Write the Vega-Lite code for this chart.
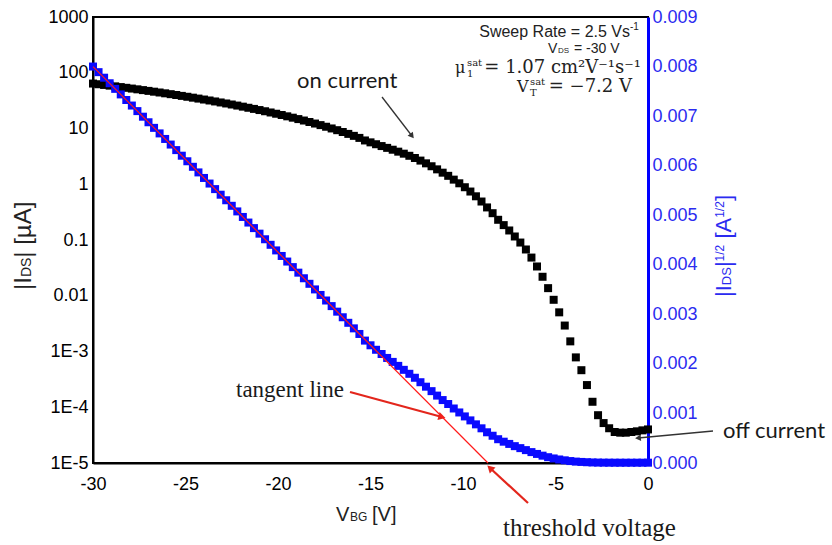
{
  "$schema": "https://vega.github.io/schema/vega-lite/v6.json",
  "width": 555,
  "height": 446,
  "autosize": {"type": "none"},
  "padding": {"left": 93, "top": 17, "right": 184, "bottom": 82},
  "background": "white",
  "config": {
    "view": {"stroke": "black", "strokeWidth": 2},
    "text": {"font": "Liberation Sans"}
  },
  "datasets": {
    "sweep": [
      {"v": -30.0, "i": 64.0, "s": 0.008},
      {"v": -29.7, "i": 62.21, "s": 0.007887},
      {"v": -29.4, "i": 60.45, "s": 0.007775},
      {"v": -29.1, "i": 58.72, "s": 0.007663},
      {"v": -28.8, "i": 57.0, "s": 0.00755},
      {"v": -28.5, "i": 55.32, "s": 0.007438},
      {"v": -28.2, "i": 53.66, "s": 0.007325},
      {"v": -27.9, "i": 52.03, "s": 0.007213},
      {"v": -27.6, "i": 50.42, "s": 0.007101},
      {"v": -27.3, "i": 48.83, "s": 0.006988},
      {"v": -27.0, "i": 47.28, "s": 0.006876},
      {"v": -26.7, "i": 45.74, "s": 0.006763},
      {"v": -26.4, "i": 44.24, "s": 0.006651},
      {"v": -26.1, "i": 42.76, "s": 0.006539},
      {"v": -25.8, "i": 41.29, "s": 0.006426},
      {"v": -25.5, "i": 39.87, "s": 0.006314},
      {"v": -25.2, "i": 38.45, "s": 0.006201},
      {"v": -24.9, "i": 37.08, "s": 0.006089},
      {"v": -24.6, "i": 35.72, "s": 0.005977},
      {"v": -24.3, "i": 34.39, "s": 0.005864},
      {"v": -24.0, "i": 33.08, "s": 0.005752},
      {"v": -23.7, "i": 31.8, "s": 0.005639},
      {"v": -23.4, "i": 30.55, "s": 0.005527},
      {"v": -23.1, "i": 29.31, "s": 0.005414},
      {"v": -22.8, "i": 28.11, "s": 0.005302},
      {"v": -22.5, "i": 26.94, "s": 0.00519},
      {"v": -22.2, "i": 25.78, "s": 0.005077},
      {"v": -21.9, "i": 24.65, "s": 0.004965},
      {"v": -21.6, "i": 23.54, "s": 0.004852},
      {"v": -21.3, "i": 22.47, "s": 0.00474},
      {"v": -21.0, "i": 21.42, "s": 0.004628},
      {"v": -20.7, "i": 20.39, "s": 0.004515},
      {"v": -20.4, "i": 19.38, "s": 0.004403},
      {"v": -20.1, "i": 18.4, "s": 0.00429},
      {"v": -19.8, "i": 17.46, "s": 0.004178},
      {"v": -19.5, "i": 16.53, "s": 0.004065},
      {"v": -19.2, "i": 15.63, "s": 0.003953},
      {"v": -18.9, "i": 14.75, "s": 0.003841},
      {"v": -18.6, "i": 13.9, "s": 0.003728},
      {"v": -18.3, "i": 13.07, "s": 0.003616},
      {"v": -18.0, "i": 12.27, "s": 0.003503},
      {"v": -17.7, "i": 11.5, "s": 0.003391},
      {"v": -17.4, "i": 10.75, "s": 0.003279},
      {"v": -17.1, "i": 10.02, "s": 0.003166},
      {"v": -16.8, "i": 9.327, "s": 0.003054},
      {"v": -16.5, "i": 8.651, "s": 0.002941},
      {"v": -16.2, "i": 8.003, "s": 0.002829},
      {"v": -15.9, "i": 7.38, "s": 0.002717},
      {"v": -15.6, "i": 6.782, "s": 0.002604},
      {"v": -15.3, "i": 6.101, "s": 0.00247},
      {"v": -15.0, "i": 5.641, "s": 0.002375},
      {"v": -14.7, "i": 5.221, "s": 0.002285},
      {"v": -14.4, "i": 4.84, "s": 0.0022},
      {"v": -14.1, "i": 4.494, "s": 0.00212},
      {"v": -13.8, "i": 4.162, "s": 0.00204},
      {"v": -13.5, "i": 3.842, "s": 0.00196},
      {"v": -13.2, "i": 3.534, "s": 0.00188},
      {"v": -12.9, "i": 3.24, "s": 0.0018},
      {"v": -12.6, "i": 2.958, "s": 0.00172},
      {"v": -12.3, "i": 2.657, "s": 0.00163},
      {"v": -12.0, "i": 2.372, "s": 0.00154},
      {"v": -11.7, "i": 2.103, "s": 0.00145},
      {"v": -11.4, "i": 1.85, "s": 0.00136},
      {"v": -11.1, "i": 1.613, "s": 0.00127},
      {"v": -10.8, "i": 1.416, "s": 0.00119},
      {"v": -10.5, "i": 1.21, "s": 0.0011},
      {"v": -10.2, "i": 1.04, "s": 0.00102},
      {"v": -9.9, "i": 0.884, "s": 0.00094},
      {"v": -9.6, "i": 0.74, "s": 0.00086},
      {"v": -9.3, "i": 0.608, "s": 0.00078},
      {"v": -9.0, "i": 0.49, "s": 0.0007},
      {"v": -8.7, "i": 0.384, "s": 0.00062},
      {"v": -8.4, "i": 0.3025, "s": 0.00055},
      {"v": -8.1, "i": 0.2304, "s": 0.00048},
      {"v": -7.8, "i": 0.1849, "s": 0.00043},
      {"v": -7.5, "i": 0.1482, "s": 0.000385},
      {"v": -7.2, "i": 0.1156, "s": 0.00034},
      {"v": -6.9, "i": 0.09, "s": 0.0003},
      {"v": -6.6, "i": 0.0676, "s": 0.00026},
      {"v": -6.3, "i": 0.0484, "s": 0.00022},
      {"v": -6.0, "i": 0.0335, "s": 0.000183},
      {"v": -5.7, "i": 0.0219, "s": 0.000148},
      {"v": -5.4, "i": 0.01369, "s": 0.000117},
      {"v": -5.1, "i": 0.00846, "s": 0.000092},
      {"v": -4.8, "i": 0.00504, "s": 0.000071},
      {"v": -4.5, "i": 0.00292, "s": 0.000054},
      {"v": -4.2, "i": 0.00152, "s": 0.000039},
      {"v": -3.9, "i": 0.000784, "s": 0.000028},
      {"v": -3.6, "i": 0.000462, "s": 0.0000215},
      {"v": -3.3, "i": 0.00025, "s": 0.0000158},
      {"v": -3.0, "i": 0.0001254, "s": 0.0000112},
      {"v": -2.7, "i": 0.000072, "s": 0.0000085},
      {"v": -2.4, "i": 0.000052, "s": 0.0000072},
      {"v": -2.1, "i": 0.000042, "s": 0.0000065},
      {"v": -1.8, "i": 0.000036, "s": 0.000006},
      {"v": -1.5, "i": 0.000035, "s": 0.0000059},
      {"v": -1.2, "i": 0.000035, "s": 0.0000059},
      {"v": -0.9, "i": 0.000036, "s": 0.000006},
      {"v": -0.6, "i": 0.000037, "s": 0.0000061},
      {"v": -0.3, "i": 0.0000385, "s": 0.0000062},
      {"v": 0.0, "i": 0.00004, "s": 0.0000063}
    ]
  },
  "layer": [
    {
      "layer": [
        {
          "data": {"name": "sweep"},
          "mark": {"type": "point", "shape": "square", "filled": true, "color": "black", "size": 64, "opacity": 1},
          "encoding": {
            "x": {
              "field": "v", "type": "quantitative",
              "scale": {"domain": [-30, 0], "nice": false, "zero": false},
              "axis": {
                "orient": "bottom", "title": null, "grid": false, "ticks": false,
                "values": [-30, -25, -20, -15, -10, -5, 0],
                "labelExpr": "'' + datum.value",
                "domainColor": "black", "domainWidth": 2,
                "labelFont": "Liberation Sans", "labelFontSize": 18, "labelColor": "black",
                "labelPadding": 12, "labelFlush": false, "labelOverlap": false
              }
            },
            "y": {
              "field": "i", "type": "quantitative",
              "scale": {"type": "log", "domain": [0.00001, 1000], "nice": false},
              "axis": {
                "orient": "left", "title": null, "grid": false, "ticks": false,
                "values": [0.00001, 0.0001, 0.001, 0.01, 0.1, 1, 10, 100, 1000],
                "labelExpr": "datum.value < 0.00002 ? '1E-5' : datum.value < 0.0002 ? '1E-4' : datum.value < 0.002 ? '1E-3' : datum.value < 0.02 ? '0.01' : datum.value < 0.2 ? '0.1' : datum.value < 2 ? '1' : datum.value < 20 ? '10' : datum.value < 200 ? '100' : '1000'",
                "domainColor": "black", "domainWidth": 2,
                "labelFont": "Liberation Sans", "labelFontSize": 18, "labelColor": "black",
                "labelPadding": 5, "labelFlush": false, "labelOverlap": false
              }
            }
          }
        },
        {
          "encoding": {
            "x": {"field": "x", "type": "quantitative", "scale": {"domain": [-30, 0], "nice": false, "zero": false}},
            "y": {"field": "y", "type": "quantitative", "scale": {"type": "log", "domain": [0.00001, 1000], "nice": false}},
            "text": {"field": "t"}
          },
          "layer": [
            {
              "data": {"values": [{"t": "Sweep Rate = 2.5 Vs", "x": -0.973, "y": 437.9}]},
              "mark": {"type": "text", "font": "Liberation Sans", "fontSize": 16, "align": "right", "baseline": "alphabetic", "color": "#222"}
            },
            {
              "data": {"values": [{"t": "-1", "x": -0.973, "y": 584.6}]},
              "mark": {"type": "text", "font": "Liberation Sans", "fontSize": 10, "align": "left", "baseline": "alphabetic", "color": "#222"}
            },
            {
              "data": {"values": [{"t": "V", "x": -5.405, "y": 226.1}, {"t": "= -30 V", "x": -4.0, "y": 226.1}]},
              "mark": {"type": "text", "font": "Liberation Sans", "fontSize": 14, "align": "left", "baseline": "alphabetic", "color": "#222"}
            },
            {
              "data": {"values": [{"t": "DS", "x": -4.865, "y": 226.1}]},
              "mark": {"type": "text", "font": "Liberation Sans", "fontSize": 8, "align": "left", "baseline": "alphabetic", "color": "#222"}
            },
            {
              "data": {"values": [{"t": "μ", "x": -10.432, "y": 98.97}, {"t": "V", "x": -7.081, "y": 45.14}]},
              "mark": {"type": "text", "font": "DejaVu Serif", "fontSize": 16, "align": "left", "baseline": "alphabetic", "color": "#222"}
            },
            {
              "data": {"values": [{"t": "sat", "x": -9.784, "y": 132.1}, {"t": "1", "x": -9.784, "y": 83.9}, {"t": "sat", "x": -6.378, "y": 60.3}, {"t": "T", "x": -6.378, "y": 38.28}]},
              "mark": {"type": "text", "font": "DejaVu Serif", "fontSize": 10, "align": "left", "baseline": "alphabetic", "color": "#222"}
            },
            {
              "data": {"values": [{"t": "= 1.07 cm²V⁻¹s⁻¹", "x": -0.378, "y": 98.97}, {"t": "= −7.2 V", "x": -0.865, "y": 45.14}]},
              "mark": {"type": "text", "font": "DejaVu Serif", "fontSize": 18, "align": "right", "baseline": "alphabetic", "color": "#222"}
            },
            {
              "data": {"values": [{"t": "on current", "x": -18.973, "y": 53.3}, {"t": "off current", "x": 4.054, "y": 0.0000281}]},
              "mark": {"type": "text", "font": "Lato", "fontSize": 22, "align": "left", "baseline": "alphabetic", "color": "#1a1a1a"}
            },
            {
              "data": {"values": [{"t": "tangent line", "x": -22.27, "y": 0.0001527}]},
              "mark": {"type": "text", "font": "Liberation Serif", "fontSize": 23, "align": "left", "baseline": "alphabetic", "color": "#1a1a1a"}
            },
            {
              "data": {"values": [{"t": "threshold voltage", "x": -7.838, "y": 0.00000049}]},
              "mark": {"type": "text", "font": "Liberation Serif", "fontSize": 25, "align": "left", "baseline": "alphabetic", "color": "#1a1a1a"}
            },
            {
              "data": {"values": [{"t": "V", "x": -16.865, "y": 0.000000911}, {"t": "[V]", "x": -14.919, "y": 0.000000911}]},
              "mark": {"type": "text", "font": "Liberation Sans", "fontSize": 20, "align": "left", "baseline": "alphabetic", "color": "#222"}
            },
            {
              "data": {"values": [{"t": "BG", "x": -16.108, "y": 0.000000911}]},
              "mark": {"type": "text", "font": "Liberation Sans", "fontSize": 12, "align": "left", "baseline": "alphabetic", "color": "#222"}
            },
            {
              "data": {"values": [{"t": "|I", "x": -33.351, "y": 0.01268}, {"t": "| [µA]", "x": -33.351, "y": 0.04814}]},
              "mark": {"type": "text", "font": "Liberation Sans", "fontSize": 24, "angle": 270, "align": "left", "baseline": "alphabetic", "color": "#222"}
            },
            {
              "data": {"values": [{"t": "DS", "x": -33.351, "y": 0.0216}]},
              "mark": {"type": "text", "font": "Liberation Sans", "fontSize": 14, "angle": 270, "align": "left", "baseline": "alphabetic", "color": "#222"}
            },
            {
              "data": {"values": [{"t": "|I", "x": 4.486, "y": 0.009497}, {"t": "|", "x": 4.486, "y": 0.03265}, {"t": "[A", "x": 4.486, "y": 0.1059}, {"t": "]", "x": 4.486, "y": 0.4985}]},
              "mark": {"type": "text", "font": "Liberation Sans", "fontSize": 22, "angle": 270, "align": "left", "baseline": "alphabetic", "color": "#2b2bf0"}
            },
            {
              "data": {"values": [{"t": "DS", "x": 4.486, "y": 0.01546}]},
              "mark": {"type": "text", "font": "Liberation Sans", "fontSize": 13, "angle": 270, "align": "left", "baseline": "alphabetic", "color": "#2b2bf0"}
            },
            {
              "data": {"values": [{"t": "1/2", "x": 4.108, "y": 0.04131}, {"t": "1/2", "x": 4.108, "y": 0.2501}]},
              "mark": {"type": "text", "font": "Liberation Sans", "fontSize": 12, "angle": 270, "align": "left", "baseline": "alphabetic", "color": "#2b2bf0"}
            }
          ]
        },
        {
          "encoding": {
            "x": {"field": "x1", "type": "quantitative", "scale": {"domain": [-30, 0], "nice": false, "zero": false}},
            "y": {"field": "y1", "type": "quantitative", "scale": {"type": "log", "domain": [0.00001, 1000], "nice": false}},
            "x2": {"field": "x2"},
            "y2": {"field": "y2"}
          },
          "layer": [
            {
              "data": {"values": [
                {"x1": -14.378, "y1": 36.73, "x2": -12.757, "y2": 7.338},
                {"x1": 3.514, "y1": 0.0000375, "x2": -0.5405, "y2": 0.00002809}
              ]},
              "mark": {"type": "rule", "color": "#333333", "strokeWidth": 1.3}
            },
            {
              "data": {"values": [
                {"x1": -16.108, "y1": 0.0001877, "x2": -11.135, "y2": 0.0000668},
                {"x1": -6.486, "y1": 0.000001916, "x2": -8.541, "y2": 0.00000813}
              ]},
              "mark": {"type": "rule", "color": "#e3261c", "strokeWidth": 2.2}
            }
          ]
        },
        {
          "encoding": {
            "x": {"field": "x", "type": "quantitative", "scale": {"domain": [-30, 0], "nice": false, "zero": false}},
            "y": {"field": "y", "type": "quantitative", "scale": {"type": "log", "domain": [0.00001, 1000], "nice": false}}
          },
          "layer": [
            {
              "data": {"values": [{"x": -12.757, "y": 7.338}]},
              "mark": {"type": "point", "shape": "triangle-up", "filled": true, "color": "#333333", "size": 45, "angle": 142, "opacity": 1}
            },
            {
              "data": {"values": [{"x": -0.5405, "y": 0.00002809}]},
              "mark": {"type": "point", "shape": "triangle-up", "filled": true, "color": "#333333", "size": 45, "angle": 265, "opacity": 1}
            },
            {
              "data": {"values": [{"x": -11.135, "y": 0.0000668}]},
              "mark": {"type": "point", "shape": "triangle-up", "filled": true, "color": "#e3261c", "size": 70, "angle": 105, "opacity": 1}
            },
            {
              "data": {"values": [{"x": -8.541, "y": 0.00000813}]},
              "mark": {"type": "point", "shape": "triangle-up", "filled": true, "color": "#e3261c", "size": 70, "angle": 313, "opacity": 1}
            }
          ]
        }
      ]
    },
    {
      "layer": [
        {
          "data": {"name": "sweep"},
          "mark": {"type": "point", "shape": "square", "filled": true, "color": "#0a0aff", "size": 64, "opacity": 1},
          "encoding": {
            "x": {"field": "v", "type": "quantitative", "scale": {"domain": [-30, 0], "nice": false, "zero": false}},
            "y": {
              "field": "s", "type": "quantitative",
              "scale": {"domain": [0, 0.009], "nice": false, "zero": false},
              "axis": {
                "orient": "right", "title": null, "grid": false, "ticks": false,
                "values": [0, 0.001, 0.002, 0.003, 0.004, 0.005, 0.006, 0.007, 0.008, 0.009],
                "format": ".3f",
                "domainColor": "#0000ff", "domainWidth": 3,
                "labelFont": "Liberation Sans", "labelFontSize": 18, "labelColor": "#2b2bf0",
                "labelPadding": 4, "labelFlush": false, "labelOverlap": false
              }
            }
          }
        },
        {
          "data": {"values": [{"x1": -30, "y1": 0.008, "x2": -8.65, "y2": 0}]},
          "mark": {"type": "rule", "color": "#ff1a1a", "strokeWidth": 1.2},
          "encoding": {
            "x": {"field": "x1", "type": "quantitative", "scale": {"domain": [-30, 0], "nice": false, "zero": false}},
            "y": {"field": "y1", "type": "quantitative", "scale": {"domain": [0, 0.009], "nice": false, "zero": false}},
            "x2": {"field": "x2"},
            "y2": {"field": "y2"}
          }
        }
      ]
    }
  ],
  "resolve": {"scale": {"y": "independent"}}
}
